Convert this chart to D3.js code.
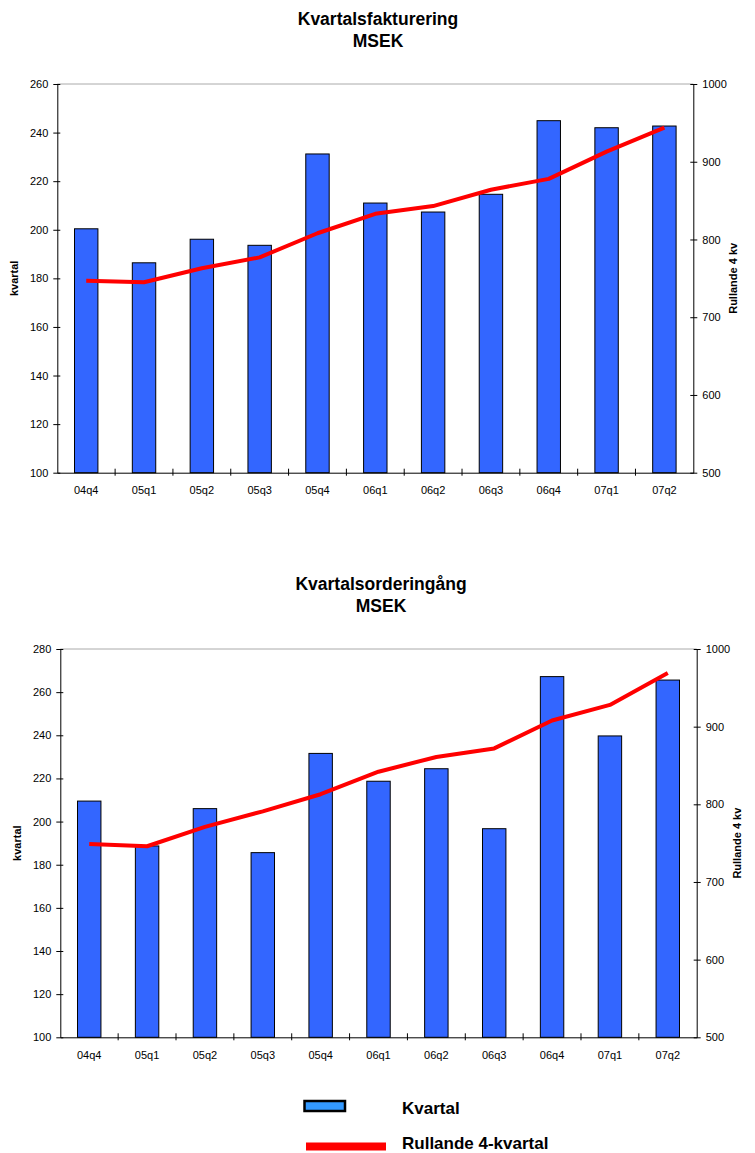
<!DOCTYPE html>
<html><head><meta charset="utf-8">
<script src="https://cdn.jsdelivr.net/npm/d3@7"></script>
<style>body{margin:0;background:#fff}svg{display:block;font-family:"Liberation Sans",Arial,sans-serif}</style>
</head><body>
<svg id="c" width="755" height="1153"></svg>
<script>
const categories = ["04q4","05q1","05q2","05q3","05q4","06q1","06q2","06q3","06q4","07q1","07q2"];
const fakturaKvartal = [200.4,186.4,196.1,193.6,231.2,211.0,207.3,214.6,244.9,242.0,242.7];
const fakturaRullande = [747,745,763,777,808,833,843,864,878,913,944];
const orderKvartal = [209.5,188.7,206.0,185.6,231.6,218.7,224.5,196.7,267.2,239.7,265.6];
const orderRullande = [749,746,771,791,813,842,861,872,908,928,969];
const leftTicks1 = [100,120,140,160,180,200,220,240,260];
const leftTicks2 = [100,120,140,160,180,200,220,240,260,280];
const rightTicks = [500,600,700,800,900,1000];

const svg = d3.select("#c");
const FF = "Liberation Sans, Arial, sans-serif";

function chart(o){
  const g = svg.append("g");
  const x = d3.scaleBand().domain(categories).range([o.x0,o.x1]).paddingInner(0.595).paddingOuter(0.2975);
  const band = d3.scaleBand().domain(categories).range([o.x0,o.x1]);
  const yL = d3.scaleLinear().domain(o.ldom).range([o.y1,o.y0]);
  const yR = d3.scaleLinear().domain([500,1000]).range([o.y1,o.y0]);
  // title
  g.append("text").attr("x",o.tx).attr("y",o.ty).attr("text-anchor","middle").attr("font-weight","bold").attr("font-size",17.5).text(o.title);
  g.append("text").attr("x",o.tx).attr("y",o.ty+22).attr("text-anchor","middle").attr("font-weight","bold").attr("font-size",17.5).text("MSEK");
  // top gridline
  g.append("line").attr("x1",o.x0).attr("x2",o.x1).attr("y1",yL(o.ldom[1])).attr("y2",yL(o.ldom[1])).attr("stroke","#aaa").attr("stroke-width",1);
  // bars
  g.selectAll("rect.bar").data(o.bars).join("rect").attr("class","bar")
    .attr("x",(d,i)=>x(categories[i])).attr("width",x.bandwidth())
    .attr("y",d=>yL(d)).attr("height",d=>yL(o.ldom[0])-yL(d))
    .attr("fill","#3366ff").attr("stroke","#000").attr("stroke-width",1);
  // line
  const line = d3.line().x((d,i)=>band(categories[i])+band.bandwidth()/2).y(d=>yR(d));
  g.append("path").datum(o.line).attr("d",line).attr("fill","none").attr("stroke","#ff0000").attr("stroke-width",4).attr("stroke-linejoin","round");
  // left axis
  const la = g.append("g").attr("transform",`translate(${o.x0},0)`)
    .call(d3.axisLeft(yL).tickValues(o.lticks).tickFormat(d3.format("d")).tickSize(0).tickPadding(9));
  la.select(".domain").attr("stroke","#000");
  la.selectAll(".tick line").attr("x1",-4).attr("x2",3).attr("stroke","#000");
  la.selectAll("text").attr("font-size",11).attr("fill","#000").attr("font-family",FF);
  // right axis
  const ra = g.append("g").attr("transform",`translate(${o.x1},0)`)
    .call(d3.axisRight(yR).tickValues(rightTicks).tickFormat(d3.format("d")).tickSize(0).tickPadding(9));
  ra.select(".domain").attr("stroke","#000");
  ra.selectAll(".tick line").attr("x1",-3).attr("x2",4).attr("stroke","#000");
  ra.selectAll("text").attr("font-size",11).attr("fill","#000").attr("font-family",FF);
  // bottom axis
  const ba = g.append("g").attr("transform",`translate(0,${o.y1})`)
    .call(d3.axisBottom(band).tickSize(0).tickPadding(14));
  ba.select(".domain").attr("stroke","#000");
  ba.selectAll("text").attr("font-size",11).attr("fill","#000").attr("font-family",FF);
  const bounds = categories.slice(1).map(c=>band(c));
  ba.selectAll("line.bt").data(bounds).join("line").attr("class","bt")
    .attr("x1",d=>d).attr("x2",d=>d).attr("y1",-4).attr("y2",3).attr("stroke","#000");
  // axis titles
  const ym = (o.y0+o.y1)/2;
  g.append("text").attr("transform",`translate(${o.x0-39},${ym}) rotate(-90)`).attr("text-anchor","middle")
    .attr("font-weight","bold").attr("font-size",11).text("kvartal");
  g.append("text").attr("transform",`translate(${o.x1+44},${ym}) rotate(-90)`).attr("text-anchor","middle")
    .attr("font-weight","bold").attr("font-size",11).text("Rullande 4 kv");
}

chart({title:"Kvartalsfakturering",tx:378,ty:25,x0:57.3,x1:693.3,y0:84,y1:472.7,ldom:[100,260],lticks:leftTicks1,bars:fakturaKvartal,line:fakturaRullande});
chart({title:"Kvartalsorderingång",tx:381,ty:590,x0:60.3,x1:696.7,y0:649,y1:1037.3,ldom:[100,280],lticks:leftTicks2,bars:orderKvartal,line:orderRullande});

// legend
const lg = svg.append("g");
lg.append("rect").attr("x",304.5).attr("y",1101).attr("width",40.5).attr("height",10).attr("fill","#3399ff").attr("stroke","#000").attr("stroke-width",2.5);
lg.append("text").attr("x",402).attr("y",1114).attr("font-weight","bold").attr("font-size",17).text("Kvartal");
lg.append("line").attr("x1",306).attr("x2",386).attr("y1",1146.5).attr("y2",1146.5).attr("stroke","#ff0000").attr("stroke-width",8);
lg.append("text").attr("x",402).attr("y",1148.5).attr("font-weight","bold").attr("font-size",17).text("Rullande 4-kvartal");
</script>
</body></html>
